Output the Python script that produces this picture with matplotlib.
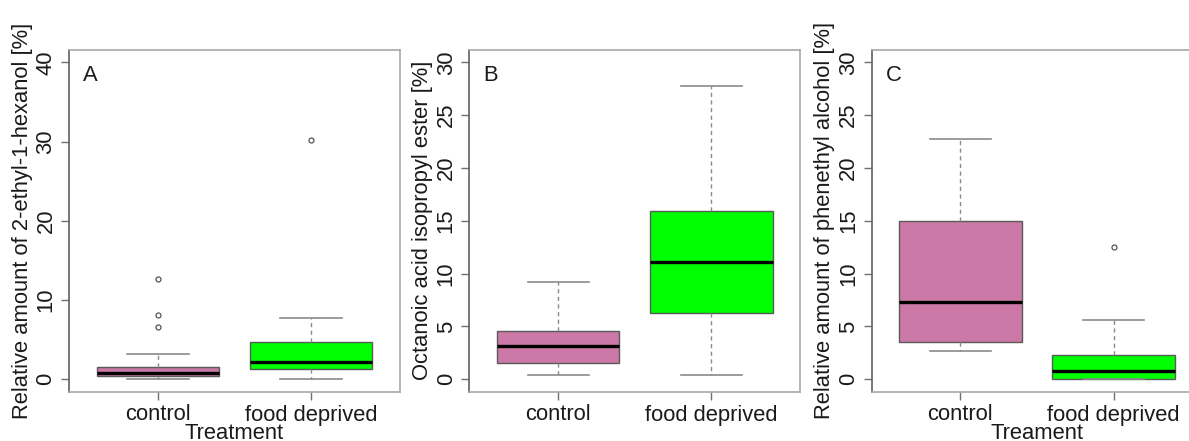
import matplotlib
matplotlib.use("Agg")
import matplotlib.pyplot as plt

plt.rcParams["font.family"] = ["Liberation Sans", "DejaVu Sans"]

categories = ["control", "food deprived"]

# five-number summaries: lower whisker, Q1, median, Q3, upper whisker
hexanol_control = [0.0, 0.38, 0.76, 1.6, 3.2]
hexanol_food = [0.1, 1.26, 2.19, 4.71, 7.7]
hexanol_control_out = [6.6, 8.1, 12.7]
hexanol_food_out = [30.2]

ester_control = [0.41, 1.51, 3.19, 4.61, 9.18]
ester_food = [0.41, 6.31, 11.07, 15.9, 27.79]
ester_control_out = []
ester_food_out = []

phenethyl_control = [2.71, 3.56, 7.35, 14.98, 22.7]
phenethyl_food = [0.0, 0.06, 0.79, 2.3, 5.6]
phenethyl_control_out = []
phenethyl_food_out = [12.49]

hexanol_ticks = [0, 10, 20, 30, 40]
percent_ticks = [0, 5, 10, 15, 20, 25, 30]

panels = [
    dict(letter="A", ylabel="Relative amount of 2-ethyl-1-hexanol [%]", xlabel="Treatment",
         groups=[hexanol_control, hexanol_food], outliers=[hexanol_control_out, hexanol_food_out],
         ymax=40, ticks=hexanol_ticks, left=69),
    dict(letter="B", ylabel="Octanoic acid isopropyl ester [%]", xlabel=None,
         groups=[ester_control, ester_food], outliers=[ester_control_out, ester_food_out],
         ymax=30, ticks=percent_ticks, left=469.3),
    dict(letter="C", ylabel="Relative amount of phenethyl alcohol [%]", xlabel="Treament",
         groups=[phenethyl_control, phenethyl_food], outliers=[phenethyl_control_out, phenethyl_food_out],
         ymax=30, ticks=percent_ticks, left=871.5),
]

colors = ["#CC79A7", "#00FF00"]
W, H = 1189, 441
FS = 15.8

fig = plt.figure(figsize=(W / 100, H / 100), dpi=100)

for p in panels:
    ax = fig.add_axes([p["left"] / W, 1 - 392 / H, 331 / W, (392 - 49.6) / H])
    stats = []
    for name, g, out in zip(categories, p["groups"], p["outliers"]):
        stats.append(dict(label=name, whislo=g[0], q1=g[1], med=g[2], q3=g[3], whishi=g[4], fliers=out))
    res = ax.bxp(stats, positions=[1, 2], widths=0.8, patch_artist=True, showfliers=True,
                 boxprops=dict(edgecolor="#5a5a5a", linewidth=1.0),
                 medianprops=dict(color="black", linewidth=2.4, solid_capstyle="butt"),
                 whiskerprops=dict(color="#8a8a8a", linewidth=1.0, linestyle=(0, (3, 2.5))),
                 capprops=dict(color="#8a8a8a", linewidth=1.2),
                 capwidths=0.4,
                 flierprops=dict(marker="o", markersize=3.6, markerfacecolor="none",
                                 markeredgecolor="#555555", markeredgewidth=0.9))
    for patch, c in zip(res["boxes"], colors):
        patch.set_facecolor(c)
    pad = p["ymax"] * 0.04
    ax.set_xlim(0.42, 2.58)
    ax.set_ylim(-pad, p["ymax"] + pad)
    ax.set_yticks(p["ticks"])
    ax.set_yticklabels([str(t) for t in p["ticks"]], rotation=90, va="center", fontsize=FS, color="#1a1a1a")
    ax.set_xticks([1, 2])
    ax.set_xticklabels(categories, fontsize=FS, color="#1a1a1a")
    ax.tick_params(axis="both", length=6, width=1, color="#707070", pad=3)
    for side in ["top", "right", "bottom"]:
        ax.spines[side].set_color("#a8a8a8")
        ax.spines[side].set_linewidth(1.2)
    ax.spines["left"].set_color("#606060")
    ax.spines["left"].set_linewidth(1.2)
    ax.set_ylabel(p["ylabel"], fontsize=FS, color="#1a1a1a", labelpad=2)
    if p["xlabel"]:
        ax.set_xlabel(p["xlabel"], fontsize=FS, color="#1a1a1a", labelpad=-2)
    ax.text(0.042, 0.955, p["letter"], transform=ax.transAxes, ha="left", va="top",
            fontsize=FS, color="#1a1a1a")

fig.savefig("out.png", dpi=100)
